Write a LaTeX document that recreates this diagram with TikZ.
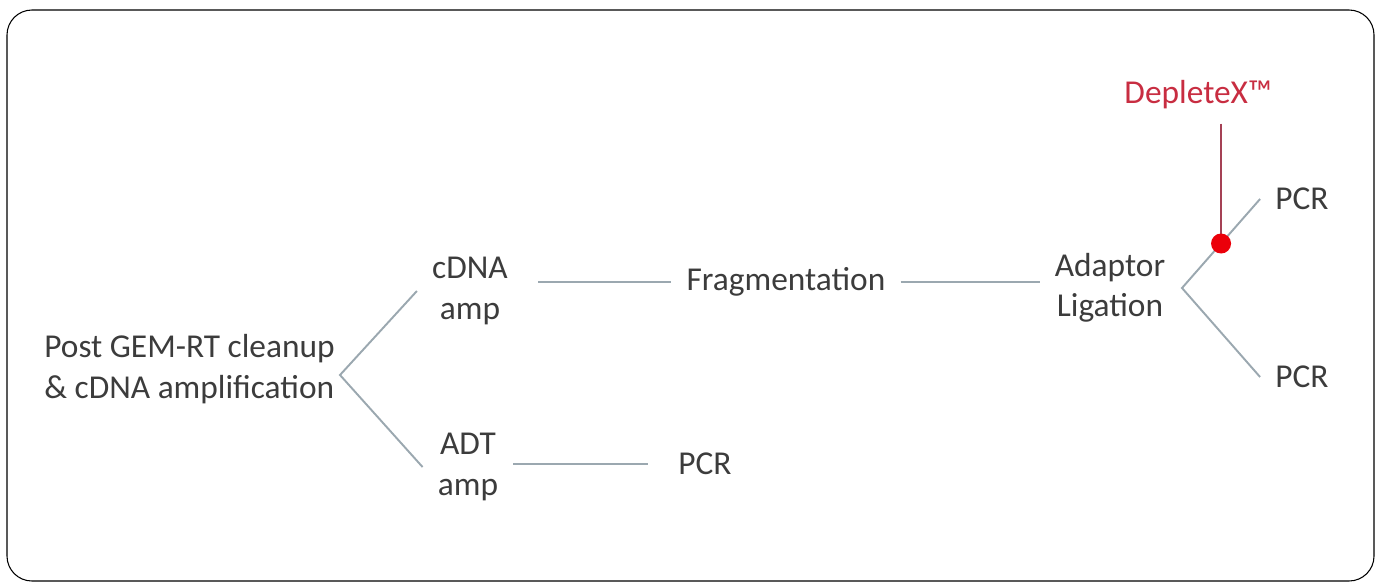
\documentclass[tikz,border=0pt]{standalone}
\usepackage{fontspec}
\setmainfont{Carlito}
\usepackage{tikz}
\usetikzlibrary{calc}
\definecolor{txtgray}{RGB}{60,60,60}
\definecolor{linkgray}{RGB}{155,168,176}
\definecolor{depred}{RGB}{200,45,65}
\definecolor{stemred}{RGB}{165,65,85}
\definecolor{dotred}{RGB}{235,0,10}
\tikzset{
x=0.02cm, y=-0.02cm, % one unit is one pixel of the layout
every node/.style={text=txtgray, font=\fontsize{19}{23}\selectfont, inner xsep=0.3cm, inner ysep=0pt}, % plain text steps
step box/.style={align=center}, % centred two-line steps
link/.style={draw=linkgray, line width=1.1pt}, % grey connectors
}

\begin{document}
\begin{tikzpicture}
    \useasboundingbox (0,0) rectangle (1381,582);
    \draw[line width=0.6pt, rounded corners=0.5cm] (7,10) rectangle (1374,581);

    \node[align=left, anchor=west, inner xsep=0pt] (post) at (44,369) {Post GEM-RT cleanup\\\& cDNA amplification};
    \node[step box] (cdna) at (470,291) {cDNA\\amp};
    \node[step box] (adt) at (468,467) {ADT\\amp};
    \node (frag) at (786,282) {Fragmentation};
    \node[step box] (adapt) at (1110,288) {Adaptor\\Ligation};
    \node (pcr1) at (1302,199) {PCR};
    \node (pcr2) at (1302,377) {PCR};
    \node (pcr3) at (705,464) {PCR};
    \node[text=depred] (deplete) at (1198,95) {DepleteX™};

    \coordinate (split1) at (340,375);
    \coordinate (split2) at (1182,288);
    \coordinate (mark) at ($(split2)!0.5!(pcr1.west)$);

    \draw[link] (cdna.west) -- (split1) -- (adt.west);
    \draw[link, shorten <=0.3cm] (cdna.east |- frag.west) -- (frag.west);
    \draw[link] (frag.east) -- (adapt.west |- frag.east);
    \draw[link, shorten >=0.3cm] (adt.east |- pcr3.west) -- (pcr3.west);
    \draw[link] (pcr1.west) -- (split2) -- (pcr2.west);

    \draw[draw=stemred, line width=1.5pt] (deplete.south -| mark) ++(0,14) -- (mark);
    \fill[dotred] (mark) circle (10);
\end{tikzpicture}
\end{document}
